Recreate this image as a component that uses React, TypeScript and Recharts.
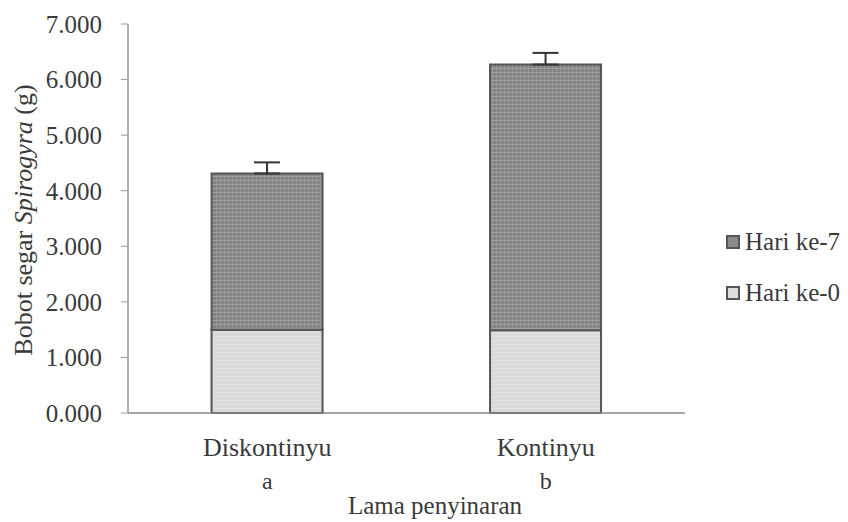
import React from 'react';
import { BarChart, Bar, XAxis, YAxis, ErrorBar } from 'recharts';

const categories = ['Diskontinyu', 'Kontinyu'];
const letters = ['a', 'b'];
const day0 = [1.5, 1.49];
const day7 = [2.81, 4.78];
const errTop = [0.2, 0.21];
const yTicks = [0, 1, 2, 3, 4, 5, 6, 7];
const legendItems = [
  { label: 'Hari ke-7', fill: '#8a8a8a' },
  { label: 'Hari ke-0', fill: '#dcdcdc' },
];

const data = categories.map((c, i) => ({
  name: c,
  letter: letters[i],
  d0: day0[i],
  d7: day7[i],
  err: [0, errTop[i]],
}));

const FONT = '"Liberation Serif", serif';
const TXT = '#3a3a3a';

const XTick = (props: any) => {
  const { x, y, payload, index } = props;
  return (
    <g>
      <text x={x} y={y} dy={35} textAnchor="middle" fontFamily={FONT} fontSize={26} fill={TXT}>
        {payload.value}
      </text>
      <text x={x} y={y} dy={68} textAnchor="middle" fontFamily={FONT} fontSize={24} fill={TXT}>
        {letters[index]}
      </text>
    </g>
  );
};

export default function App() {
  return (
    <div style={{ position: 'absolute', left: 0, top: 0, width: 848, height: 522, background: '#fff' }}>
      <BarChart
        width={848}
        height={522}
        data={data}
        margin={{ top: 24, right: 163, bottom: 49, left: 0 }}
        barCategoryGap="30%"
      >
        <defs>
          <pattern id="darkPat" width="4" height="4" patternUnits="userSpaceOnUse">
            <rect width="4" height="4" fill="#828282" />
            <rect width="4" height="1" fill="#a2a2a2" />
            <rect width="1" height="4" fill="#9a9a9a" />
          </pattern>
          <pattern id="lightPat" width="4" height="4" patternUnits="userSpaceOnUse">
            <rect width="4" height="4" fill="#dadada" />
            <rect width="4" height="1" fill="#e2e2e2" />
          </pattern>
        </defs>
        <XAxis
          dataKey="name"
          height={60}
          tick={<XTick />}
          tickLine={false}
          axisLine={{ stroke: '#888', strokeWidth: 1.5 }}
          interval={0}
        />
        <YAxis
          width={128}
          domain={[0, 7]}
          ticks={yTicks}
          interval={0}
          tickFormatter={(v: number) => v.toFixed(3)}
          tick={{ fontFamily: FONT, fontSize: 25, fill: TXT }}
          tickSize={7}
          tickMargin={19}
          tickLine={{ stroke: '#999' }}
          axisLine={{ stroke: '#999', strokeWidth: 1.5 }}
        />
        <text
          x={23}
          y={220}
          transform="rotate(-90 23 220)"
          textAnchor="middle"
          dominantBaseline="central"
          fontFamily={FONT}
          fontSize={26}
          fill={TXT}
        >
          Bobot segar <tspan fontStyle="italic">Spirogyra</tspan> (g)
        </text>
        <text x={435} y={514} textAnchor="middle" fontFamily={FONT} fontSize={25} fill={TXT}>
          Lama penyinaran
        </text>
        <Bar dataKey="d0" stackId="s" fill="url(#lightPat)" stroke="#555" strokeWidth={2} isAnimationActive={false} />
        <Bar dataKey="d7" stackId="s" fill="url(#darkPat)" stroke="#555" strokeWidth={2} isAnimationActive={false}>
          <ErrorBar dataKey="err" direction="y" width={13} stroke="#333" strokeWidth={2} />
        </Bar>
      </BarChart>
      <div
        style={{
          position: 'absolute',
          left: 726,
          top: 216,
          fontFamily: FONT,
          fontSize: 25,
          color: TXT,
          lineHeight: '51px',
        }}
      >
        {legendItems.map((it) => (
          <div key={it.label} style={{ display: 'flex', alignItems: 'center' }}>
            <span
              style={{
                display: 'inline-block',
                width: 10,
                height: 10,
                background: it.fill,
                border: '2px solid #555',
                marginRight: 5,
              }}
            />
            <span>{it.label}</span>
          </div>
        ))}
      </div>
    </div>
  );
}
